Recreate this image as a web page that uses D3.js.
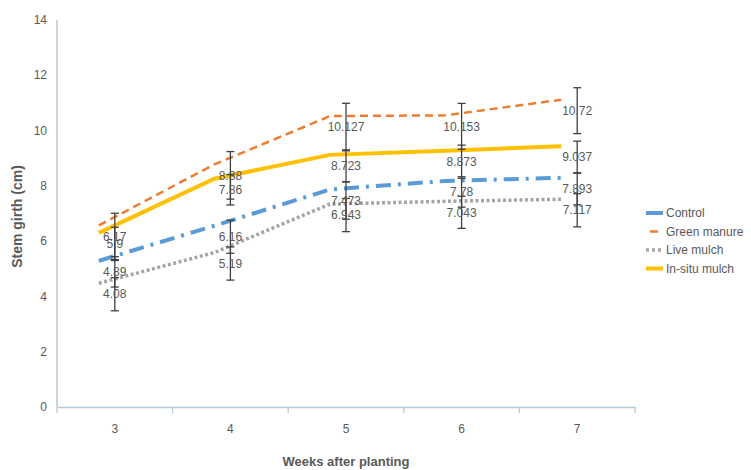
<!DOCTYPE html>
<html>
<head>
<meta charset="utf-8">
<script src="https://cdn.jsdelivr.net/npm/d3@7"></script>
<style>
  body { margin: 0; background: #fff; }
  svg { font-family: "Liberation Sans", Arial, sans-serif; }
</style>
</head>
<body>
<div id="chart"></div>
<script>
// weeks after planting
const weeks = ["3", "4", "5", "6", "7"];

// stem girth means (cm)
const control     = [4.89, 6.16, 7.473, 7.78, 7.893];
const greenManure = [6.17, 8.38, 10.127, 10.153, 10.72];
const liveMulch   = [4.08, 5.19, 6.943, 7.043, 7.117];
const inSituMulch = [5.9, 7.86, 8.723, 8.873, 9.037];

// error bar half widths
const controlErr     = [0.55, 0.6, 0.68, 0.55, 0.58];
const greenManureErr = [0.84, 0.86, 0.86, 0.83, 0.83];
const liveMulchErr   = [0.6, 0.6, 0.6, 0.58, 0.6];
const inSituMulchErr = [0.6, 0.55, 0.58, 0.6, 0.58];

const labels = ["Control", "Green manure", "Live mulch", "In-situ mulch"];
const yTicks = [0, 2, 4, 6, 8, 10, 12, 14];

const width = 751, height = 470;
const margin = {top: 20, right: 116, bottom: 63, left: 57};

const series = [
  {name: labels[0], values: control, err: controlErr, color: "#5b9bd5", w: 4, dash: "15,7,3,7"},
  {name: labels[1], values: greenManure, err: greenManureErr, color: "#ed7d31", w: 2.5, dash: "8,5"},
  {name: labels[2], values: liveMulch, err: liveMulchErr, color: "#a5a5a5", w: 3.5, dash: "3,2.5"},
  {name: labels[3], values: inSituMulch, err: inSituMulchErr, color: "#ffc000", w: 4, dash: null}
];

// the lines in the original sit a little off the error bars and labels
const lineShift = {dx: -16, dy: -11};

const svg = d3.select("#chart").append("svg")
    .attr("width", width)
    .attr("height", height);

const x = d3.scaleBand()
    .domain(weeks)
    .range([margin.left, width - margin.right]);

const y = d3.scaleLinear()
    .domain([0, 14])
    .range([height - margin.bottom, margin.top]);

const cx = w => x(w) + x.bandwidth() / 2;
const axisColor = "#b4c9d3";
const textColor = "#595959";

// y axis
svg.append("line")
    .attr("x1", margin.left).attr("x2", margin.left)
    .attr("y1", y(0)).attr("y2", y(14))
    .attr("stroke", axisColor).attr("stroke-width", 1.5);

svg.append("g").selectAll("text")
  .data(yTicks)
  .join("text")
    .attr("x", 47)
    .attr("y", d => y(d))
    .attr("dy", "0.35em")
    .attr("text-anchor", "end")
    .attr("fill", textColor)
    .style("font-size", "12px")
    .text(d => d);

// x axis
const xAxis = svg.append("g")
    .attr("transform", `translate(0,${y(0)})`)
    .call(d3.axisBottom(x).tickSize(0).tickPadding(17));
xAxis.select(".domain").attr("stroke", axisColor).attr("stroke-width", 1.5);
xAxis.selectAll("text").attr("fill", textColor).style("font-size", "12px");

// category boundary ticks
const bounds = weeks.map(w => x(w)).concat([x.range()[1]]);
svg.append("g").selectAll("line")
  .data(bounds)
  .join("line")
    .attr("x1", d => d).attr("x2", d => d)
    .attr("y1", y(0)).attr("y2", y(0) + 6)
    .attr("stroke", axisColor).attr("stroke-width", 1.2);

// axis titles
svg.append("text")
    .attr("transform", `translate(22,${y(7) + 3}) rotate(-90)`)
    .attr("text-anchor", "middle")
    .attr("fill", textColor)
    .style("font-size", "14px")
    .style("font-weight", "bold")
    .text("Stem girth (cm)");

svg.append("text")
    .attr("x", (x.range()[0] + x.range()[1]) / 2)
    .attr("y", 466)
    .attr("text-anchor", "middle")
    .attr("fill", textColor)
    .style("font-size", "13px")
    .style("font-weight", "bold")
    .text("Weeks after planting");

// lines
const line = d3.line()
    .x((d, i) => cx(weeks[i]))
    .y(d => y(d));

svg.append("g")
    .attr("transform", `translate(${lineShift.dx},${lineShift.dy})`)
  .selectAll("path")
  .data(series)
  .join("path")
    .attr("d", d => line(d.values))
    .attr("fill", "none")
    .attr("stroke", d => d.color)
    .attr("stroke-width", d => d.w)
    .attr("stroke-dasharray", d => d.dash);

// error bars
const errData = series.flatMap(s => s.values.map((v, i) => ({w: weeks[i], v, e: s.err[i]})));
const eb = svg.append("g")
    .attr("stroke", "#404040")
    .attr("stroke-width", 1.3);

eb.selectAll(".stem")
  .data(errData)
  .join("line")
    .attr("x1", d => cx(d.w)).attr("x2", d => cx(d.w))
    .attr("y1", d => y(d.v - d.e)).attr("y2", d => y(d.v + d.e));

eb.selectAll(".cap")
  .data(errData.flatMap(d => [d.v - d.e, d.v + d.e].map(c => ({w: d.w, c}))))
  .join("line")
    .attr("x1", d => cx(d.w) - 4).attr("x2", d => cx(d.w) + 4)
    .attr("y1", d => y(d.c)).attr("y2", d => y(d.c));

// data labels
svg.append("g").selectAll("text")
  .data(errData)
  .join("text")
    .attr("x", d => cx(d.w))
    .attr("y", d => y(d.v))
    .attr("dy", "0.35em")
    .attr("text-anchor", "middle")
    .attr("fill", textColor)
    .style("font-size", "12px")
    .text(d => d.v);

// legend
const legend = svg.append("g")
    .attr("transform", "translate(646,213)");

const item = legend.selectAll("g")
  .data(series)
  .join("g")
    .attr("transform", (d, i) => `translate(0,${i * 18.5})`);

item.append("line")
    .attr("x1", d => d.name === "Green manure" ? 4 : 0)
    .attr("x2", d => d.name === "Green manure" ? 12 : 17)
    .attr("stroke", d => d.color)
    .attr("stroke-width", d => d.w)
    .attr("stroke-dasharray", d => d.name === "Live mulch" ? "3,3" : null);

item.append("text")
    .attr("x", 20)
    .attr("dy", "0.35em")
    .attr("fill", textColor)
    .style("font-size", "12px")
    .text(d => d.name);
</script>
</body>
</html>
